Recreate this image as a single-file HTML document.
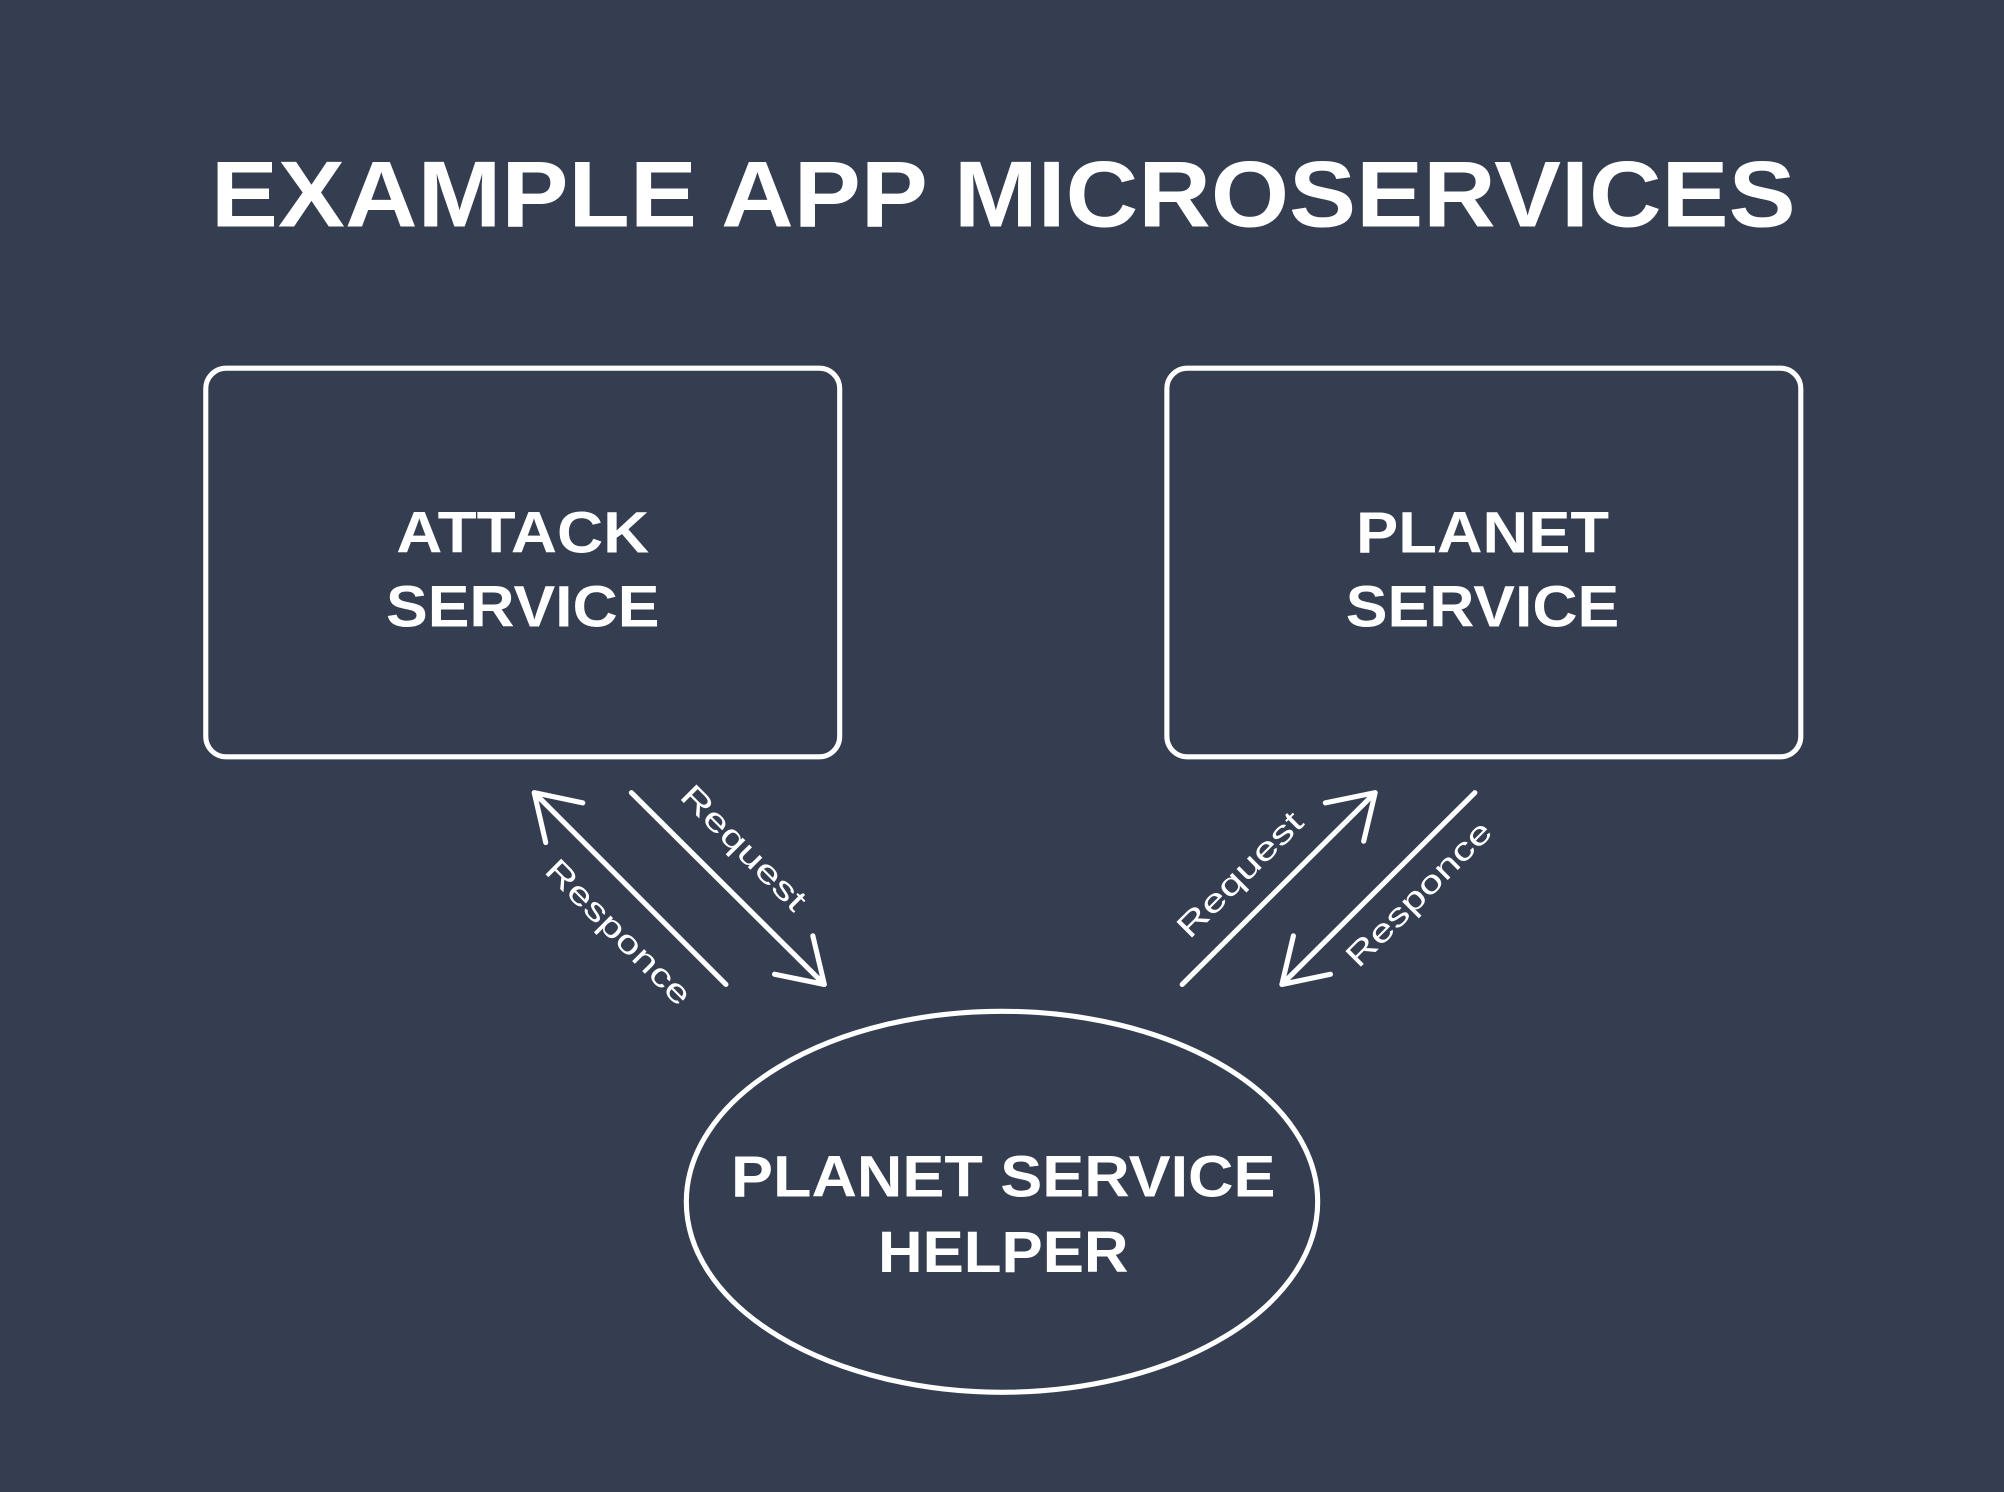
<!DOCTYPE html>
<html><head><meta charset="utf-8"><style>
html,body{margin:0;padding:0;background:#353e50;}
svg{display:block;}
text{font-family:"Liberation Sans",sans-serif;fill:#fff;}
</style></head><body>
<svg width="2004" height="1492" viewBox="0 0 1568 1167" preserveAspectRatio="none" xmlns="http://www.w3.org/2000/svg">
<rect width="1568" height="1167" fill="#353e50"/>
<text x="785" y="177" text-anchor="middle" font-size="73" font-weight="bold" textLength="1240" lengthAdjust="spacingAndGlyphs">EXAMPLE APP MICROSERVICES</text>
<g fill="none" stroke="#fff" stroke-width="4" stroke-linecap="round">
<rect x="161" y="288" width="496" height="304" rx="16"/>
<rect x="913" y="288" width="496" height="304" rx="16"/>
<ellipse cx="784" cy="940" rx="247" ry="149"/>
<path d="M418 620 L568 770 M418 620 L456 628 M418 620 L427 659"/>
<path d="M494 620 L645 770 M645 770 L606 762 M645 770 L636 732"/>
<path d="M925 770 L1076 620 M1076 620 L1037 628 M1076 620 L1067 658"/>
<path d="M1154 620 L1003 770 M1003 770 L1041 762 M1003 770 L1012 732"/>
</g>
<g font-size="46" font-weight="bold" text-anchor="middle">
<text x="409" y="432" textLength="198" lengthAdjust="spacingAndGlyphs">ATTACK</text>
<text x="409" y="490" textLength="214" lengthAdjust="spacingAndGlyphs">SERVICE</text>
<text x="1160" y="432" textLength="198" lengthAdjust="spacingAndGlyphs">PLANET</text>
<text x="1160" y="490" textLength="214" lengthAdjust="spacingAndGlyphs">SERVICE</text>
<text x="785" y="936" textLength="426" lengthAdjust="spacingAndGlyphs">PLANET SERVICE</text>
<text x="785" y="995" textLength="196" lengthAdjust="spacingAndGlyphs">HELPER</text>
</g>
<g font-size="25" text-anchor="middle">
<text transform="translate(576,669) rotate(45)" textLength="128" lengthAdjust="spacingAndGlyphs">Request</text>
<text transform="translate(478,735) rotate(45)" textLength="150" lengthAdjust="spacingAndGlyphs">Responce</text>
<text transform="translate(976,690) rotate(-45)" textLength="128" lengthAdjust="spacingAndGlyphs">Request</text>
<text transform="translate(1116,705) rotate(-45)" textLength="150" lengthAdjust="spacingAndGlyphs">Responce</text>
</g>
</svg>
</body></html>
